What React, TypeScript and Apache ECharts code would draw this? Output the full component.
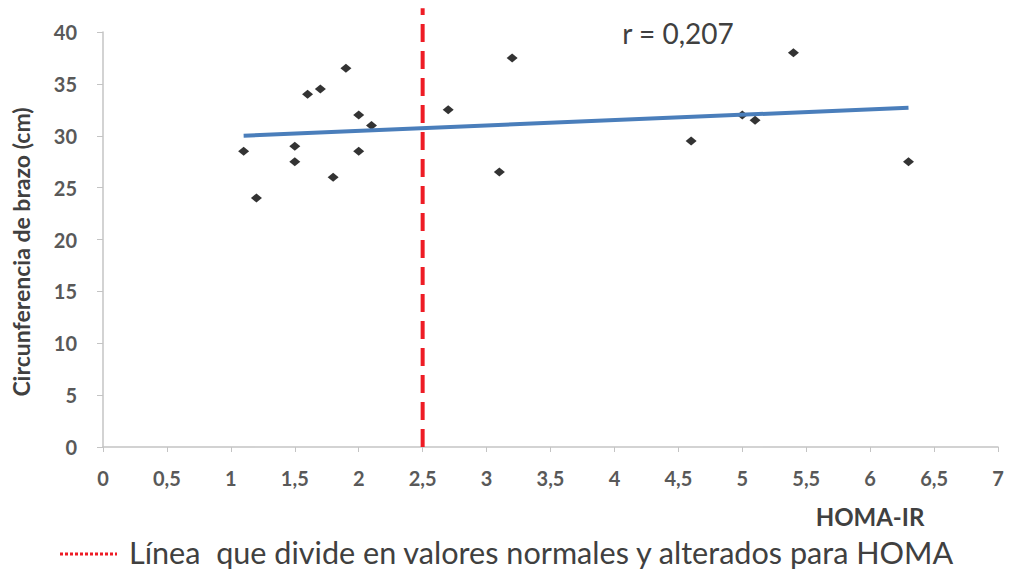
import React, { useEffect, useRef } from "react";
import * as echarts from "echarts";

// HOMA-IR vs arm circumference
const homaIR = [1.1, 1.2, 1.5, 1.5, 1.6, 1.7, 1.8, 1.9, 2.0, 2.0, 2.1, 2.7, 3.1, 3.2, 4.6, 5.0, 5.1, 5.4, 6.3];
const armCm = [28.5, 24.0, 29.0, 27.5, 34.0, 34.5, 26.0, 36.5, 32.0, 28.5, 31.0, 32.5, 26.5, 37.5, 29.5, 32.0, 31.5, 38.0, 27.5];

// Linear trend endpoints [x, y]
const trendStart = [1.1, 30.0];
const trendEnd = [6.3, 32.7];

// Cut-off for HOMA-IR
const cutOff = 2.5;
const cutOffTop = 42.3;

const xMin = 0;
const xMax = 7;
const xStep = 0.5;
const yMin = 0;
const yMax = 40;
const yStep = 5;

const yTitle = "Circunferencia de brazo (cm)";
const xTitle = "HOMA-IR";
const rLabel = "r = 0,207";
const legendLabel = "Línea  que divide en valores normales y alterados para HOMA";

const FONT = "Lato, 'Open Sans', sans-serif";
const fmt = (v: number) => String(v).replace(".", ",");

export default function App() {
  const ref = useRef<HTMLDivElement>(null);

  useEffect(() => {
    if (!ref.current) return;
    const chart = echarts.init(ref.current, undefined, { renderer: "svg" });
    const points = homaIR.map((x, i) => [x, armCm[i]]);

    chart.setOption({
      animation: false,
      backgroundColor: "#ffffff",
      grid: { left: 103, right: 14, top: 32, bottom: 124 },
      xAxis: {
        type: "value",
        min: xMin,
        max: xMax,
        interval: xStep,
        splitLine: { show: false },
        axisLine: { show: true, lineStyle: { color: "#c4c4c4", width: 1.5 } },
        axisTick: { show: true, length: 5, lineStyle: { color: "#c4c4c4" } },
        axisLabel: {
          margin: 21,
          color: "#595959",
          fontFamily: FONT,
          fontSize: 20,
          fontWeight: "bold",
          formatter: (v: number) => fmt(v),
        },
      },
      yAxis: {
        type: "value",
        min: yMin,
        max: yMax,
        interval: yStep,
        splitLine: { show: false },
        axisLine: { show: true, lineStyle: { color: "#c4c4c4", width: 1.5 } },
        axisTick: { show: true, length: 6, lineStyle: { color: "#c4c4c4" } },
        axisLabel: {
          margin: 26,
          color: "#595959",
          fontFamily: FONT,
          fontSize: 20,
          fontWeight: "bold",
          formatter: (v: number) => fmt(v),
        },
      },
      series: [
        {
          type: "scatter",
          data: points,
          symbol: "diamond",
          symbolSize: [11, 9],
          itemStyle: { color: "#000000" },
          z: 2,
        },
        {
          type: "line",
          data: [trendStart, trendEnd],
          symbol: "none",
          lineStyle: { color: "#4a7ebb", width: 4 },
          z: 3,
        },
        {
          type: "line",
          data: [
            [cutOff, yMin],
            [cutOff, cutOffTop],
          ],
          symbol: "none",
          clip: false,
          lineStyle: { color: "#ee1c25", width: 4, type: [18, 9] },
          z: 4,
        },
      ],
      graphic: [
        {
          type: "text",
          x: 21,
          y: 252,
          rotation: Math.PI / 2,
          style: {
            text: yTitle,
            fill: "#404040",
            font: `bold 23px ${FONT}`,
            align: "center",
            verticalAlign: "middle",
          },
        },
        {
          type: "text",
          x: 678,
          y: 33,
          style: {
            text: rLabel,
            fill: "#404040",
            font: `28px ${FONT}`,
            align: "center",
            verticalAlign: "middle",
          },
        },
        {
          type: "text",
          x: 870,
          y: 516,
          style: {
            text: xTitle,
            fill: "#404040",
            font: `bold 24px ${FONT}`,
            align: "center",
            verticalAlign: "middle",
          },
        },
        {
          type: "line",
          shape: { x1: 60, y1: 554, x2: 117, y2: 554 },
          style: { stroke: "#ee1c25", lineWidth: 3, lineDash: [3, 2] },
        },
        {
          type: "text",
          x: 129,
          y: 552,
          style: {
            text: legendLabel,
            fill: "#404040",
            font: `30.6px ${FONT}`,
            verticalAlign: "middle",
          },
        },
      ],
    });

    return () => chart.dispose();
  }, []);

  return (
    <div
      ref={ref}
      style={{ position: "absolute", left: 0, top: 0, width: 1012, height: 571 }}
    />
  );
}
